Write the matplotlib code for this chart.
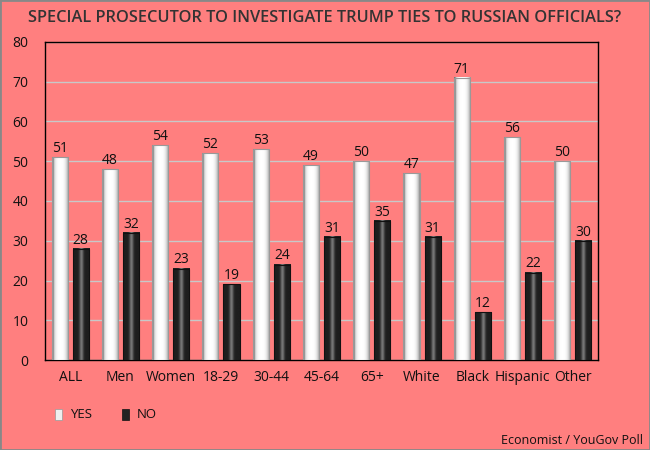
import matplotlib.pyplot as plt
import numpy as np

categories = ["ALL", "Men", "Women", "18-29", "30-44", "45-64", "65+",
              "White", "Black", "Hispanic", "Other"]
yes = [51, 48, 54, 52, 53, 49, 50, 47, 71, 56, 50]
no = [28, 32, 23, 19, 24, 31, 35, 31, 12, 22, 30]

bg = "#ff7f7f"
plt.rcParams['font.family'] = ['Open Sans', 'DejaVu Sans']

fig = plt.figure(figsize=(6.5, 4.5), dpi=100, facecolor=bg)
fig.patches.append(plt.Rectangle((0, 0), 1, 1, transform=fig.transFigure,
                                 fill=False, edgecolor="#888888", lw=2))
ax = fig.add_axes([45/650, 90/450, 553/650, 318/450])
ax.set_facecolor(bg)

# gradient images for the cylinder look
t = np.linspace(0, 1, 64)
white_grad = 1 - 0.45 * np.abs(2 * t - 1) ** 3
white_grad = np.clip(white_grad - 0.15 * (t < 0.12), 0, 1)
black_grad = 0.12 + 0.35 * np.exp(-((t - 0.5) / 0.12) ** 2)

w = 0.32
x = np.arange(len(categories))


def grad_bars(xs, vals, grad, edge):
    for xi, v in zip(xs, vals):
        img = np.tile(grad, (2, 1))
        ax.imshow(img, cmap="gray", vmin=0, vmax=1, aspect="auto",
                  extent=(xi - w/2, xi + w/2, 0, v), zorder=3,
                  interpolation="bilinear")
        r = plt.Rectangle((xi - w/2, 0), w, v, fill=False,
                          edgecolor=edge, lw=0.8, zorder=4)
        ax.add_patch(r)
        ax.text(xi, v + 0.3, str(v), ha="center", va="bottom",
                fontsize=10, color="#111111", zorder=5)


grad_bars(x - 0.21, yes, white_grad, "#999999")
grad_bars(x + 0.21, no, black_grad, "#111111")

ax.set_xlim(-0.5, len(categories) - 0.5)
ax.set_ylim(0, 80)
ax.set_yticks(range(0, 81, 10))
ax.set_xticks(x)
ax.set_xticklabels(categories, fontsize=10)
ax.tick_params(axis="both", length=0, labelsize=10, colors="#111111")
ax.tick_params(axis="x", pad=7)
ax.tick_params(axis="y", pad=12)
ax.grid(axis="y", color="#c8c8c8", lw=1, zorder=0)
for s in ax.spines.values():
    s.set_color("black")
    s.set_linewidth(1)

fig.text(0.5, 432/450, "SPECIAL PROSECUTOR TO INVESTIGATE TRUMP TIES TO RUSSIAN OFFICIALS?",
         ha="center", va="center", fontsize=11.8, fontweight="semibold", color="#333333")

# legend
fig.patches.append(plt.Rectangle((55/650, 30/450), 7/650, 11/450,
                                 transform=fig.transFigure, facecolor="#eeeeee",
                                 edgecolor="#999999", lw=0.5))
fig.text(70/650, 35.5/450, "YES", fontsize=9.5, va="center", color="#111111")
fig.patches.append(plt.Rectangle((122/650, 30/450), 7/650, 11/450,
                                 transform=fig.transFigure, facecolor="#222222",
                                 edgecolor="#111111", lw=0.5))
fig.text(137/650, 35.5/450, "NO", fontsize=9.5, va="center", color="#111111")

fig.text(643/650, 9/450, "Economist / YouGov Poll", ha="right", va="center",
         fontsize=9, color="#111111")

fig.savefig("out.png", facecolor=bg)
